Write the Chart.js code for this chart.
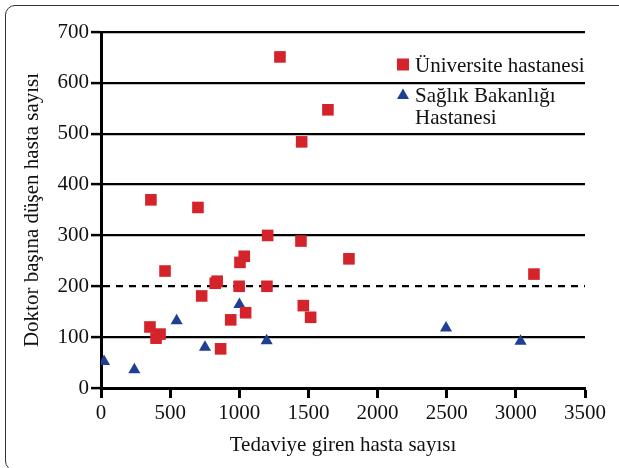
<!DOCTYPE html>
<html>
<head>
<meta charset="utf-8">
<script src="https://cdn.jsdelivr.net/npm/chart.js@4"></script>
<style>
  html, body { margin: 0; padding: 0; background: #fff; overflow: hidden; }
  #wrap { position: relative; width: 619px; height: 468px; overflow: hidden; }
  #frame {
    position: absolute; left: 5px; top: 5px; width: 650px; height: 466px;
    border: 1.5px solid #333; border-radius: 10px; box-sizing: border-box;
  }
  canvas { position: absolute; left: 0; top: 0; }
</style>
</head>
<body>
<div id="wrap">
  <div id="frame"></div>
  <canvas id="chart" width="619" height="468"></canvas>
</div>
<script>
const seriesNames = [["Üniversite hastanesi"], ["Sağlık Bakanlığı", "Hastanesi"]];

// Üniversite hastanesi: [tedaviye giren, doktor başına]
const universiteX = [1294, 1641, 1451, 361, 701, 1205, 1446, 1793, 3131, 463, 1036, 1005, 826, 840, 999, 1200, 728, 1463, 1516, 1046, 938, 354, 427, 398, 865];
const universiteY = [651, 547, 484, 370, 355, 300, 289, 254, 224, 230, 259, 247, 206, 210, 200, 200, 181, 162, 139, 148, 134, 120, 106, 98, 77];

// Sağlık Bakanlığı hastanesi
const bakanlikX = [22, 241, 547, 752, 1001, 1198, 2495, 3034];
const bakanlikY = [52, 36, 132, 80, 164, 93, 118, 92];

const xTicks = [0, 500, 1000, 1500, 2000, 2500, 3000, 3500];
const yTicks = [0, 100, 200, 300, 400, 500, 600, 700];
const dashedLevel = 200;

const RED = "#d4232b";
const BLUE = "#1f3f95";
const FONT = "'Liberation Serif', 'Times New Roman', serif";

const toPoints = (xs, ys) => xs.map((x, i) => ({ x, y: ys[i] }));

const legendPlugin = {
  id: "sideLegend",
  afterDraw(chart) {
    const { ctx, chartArea } = chart;
    const markX = chartArea.right - 182;
    const textX = chartArea.right - 170;
    const baselines = [[40], [70, 91.5]];
    ctx.save();
    ctx.font = "21px " + FONT;
    ctx.fillStyle = "#111";
    ctx.textBaseline = "alphabetic";
    chart.data.datasets.forEach((ds, i) => {
      const lines = seriesNames[i];
      lines.forEach((t, j) => ctx.fillText(t, textX, chartArea.top + baselines[i][j]));
      const cy = chartArea.top + baselines[i][0] - 7.5;
      ctx.fillStyle = ds.backgroundColor;
      ctx.beginPath();
      if (ds.pointStyle === "rect") {
        ctx.rect(markX - 6, cy - 6, 12, 12);
      } else {
        ctx.moveTo(markX, cy - 6);
        ctx.lineTo(markX + 6, cy + 4.5);
        ctx.lineTo(markX - 6, cy + 4.5);
        ctx.closePath();
      }
      ctx.fill();
      ctx.fillStyle = "#111";
    });
    ctx.restore();
  }
};

new Chart(document.getElementById("chart").getContext("2d"), {
  type: "scatter",
  data: {
    datasets: [
      {
        label: seriesNames[0].join(" "),
        data: toPoints(universiteX, universiteY),
        backgroundColor: RED,
        borderColor: RED,
        borderWidth: 0,
        pointStyle: "rect",
        pointRadius: 8.2
      },
      {
        label: seriesNames[1].join(" "),
        data: toPoints(bakanlikX, bakanlikY),
        backgroundColor: BLUE,
        borderColor: BLUE,
        borderWidth: 0,
        pointStyle: "triangle",
        pointRadius: 7
      }
    ]
  },
  options: {
    responsive: false,
    animation: false,
    layout: { padding: { top: 32, right: 34, left: 0, bottom: 0 } },
    scales: {
      x: {
        type: "linear",
        min: 0,
        max: 3500,
        afterBuildTicks: s => { s.ticks = xTicks.map(v => ({ value: v })); },
        afterFit: s => { s.height = 80; },
        grid: { drawOnChartArea: false, tickLength: 10, tickWidth: 3, tickColor: "#000" },
        border: { color: "#000", width: 3 },
        ticks: {
          color: "#111",
          padding: 3,
          font: { family: FONT, size: 21 },
          callback: v => String(v)
        },
        title: {
          display: true,
          text: "Tedaviye giren hasta sayısı",
          color: "#111",
          font: { family: FONT, size: 21 },
          padding: { top: 0, bottom: 10 }
        }
      },
      y: {
        type: "linear",
        min: 0,
        max: 700,
        afterBuildTicks: s => { s.ticks = yTicks.map(v => ({ value: v })); },
        afterFit: s => { s.width = 101; },
        grid: { color: "#000", lineWidth: 2.2, tickLength: 10, tickWidth: 2.5, tickColor: "#000" },
        border: {
          color: "#000",
          width: 3,
          dash: c => (c.tick && c.tick.value === dashedLevel) ? [7, 6] : []
        },
        ticks: {
          color: "#111",
          padding: 2,
          font: { family: FONT, size: 21 },
          callback: v => String(v)
        },
        title: {
          display: true,
          text: "Doktor başına düşen hasta sayısı",
          color: "#111",
          font: { family: FONT, size: 21 },
          padding: { top: 19.5, bottom: 0 }
        }
      }
    },
    plugins: {
      legend: { display: false },
      tooltip: { enabled: false }
    }
  },
  plugins: [legendPlugin]
});
</script>
</body>
</html>
